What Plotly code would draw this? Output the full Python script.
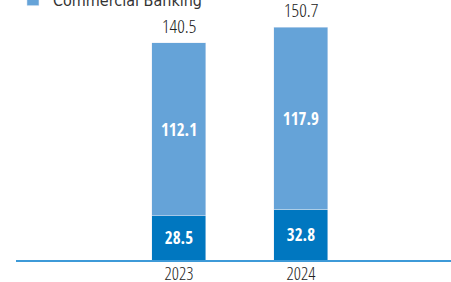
import plotly.graph_objects as go

years = ["2023", "2024"]
retail = [28.5, 32.8]
commercial = [112.1, 117.9]
totals = [140.5, 150.7]
total_labels = ["140.5", "150.7"]

DARK = "#0077c0"
LIGHT = "#65a3d8"
FB = "Open Sans Condensed, DejaVu Sans Condensed, sans-serif"
FL = "Open Sans Condensed Light, DejaVu Sans Condensed, sans-serif"
F4 = "DejaVu Sans Condensed, sans-serif"

fig = go.Figure()
fig.add_trace(go.Bar(
    x=years, y=retail, name="Retail Banking", marker_color=DARK,
    text=[f"{v:.1f}" for v in retail], textposition="inside",
    insidetextanchor="middle",
    textfont=dict(color="white", size=17, family=FB, weight="bold"),
    width=0.443, hoverinfo="skip",
))
fig.add_trace(go.Bar(
    x=years, y=commercial, name="Commercial Banking", marker_color=LIGHT,
    text=[f"{v:.1f}" for v in commercial], textposition="inside",
    insidetextanchor="middle",
    textfont=dict(color="white", size=17, family=FB, weight="bold"),
    width=0.443, hoverinfo="skip",
))
for i, (tot, lab) in enumerate(zip(totals, total_labels)):
    fig.add_annotation(x=i, y=tot, text=lab, showarrow=False, yanchor="bottom",
                       yshift=2,
                       font=dict(color="#222222", size=19, family=FL))

fig.update_layout(
    width=451, height=282,
    margin=dict(l=16, r=0, t=0, b=22, autoexpand=False),
    barmode="stack",
    plot_bgcolor="white", paper_bgcolor="white",
    font=dict(family=F4, color="#333333", size=16),
    showlegend=True,
    legend=dict(x=-0.007, xanchor="left", y=1.158, yanchor="top",
                orientation="v", traceorder="normal",
                font=dict(size=16, family=F4, color="#333333"),
                bgcolor="rgba(0,0,0,0)"),
    xaxis=dict(type="category", range=[-1.336, 2.23], showgrid=False,
               showline=True, linecolor="#3d9ad8", linewidth=2,
               ticks="", ticklabelstandoff=-4,
               tickfont=dict(size=18, color="#222222", family=FL)),
    yaxis=dict(range=[0, 168.3], visible=False, showgrid=False),
)

fig.write_html("out.html", post_script="document.body.style.margin='0';",
               config={"displayModeBar": False})
